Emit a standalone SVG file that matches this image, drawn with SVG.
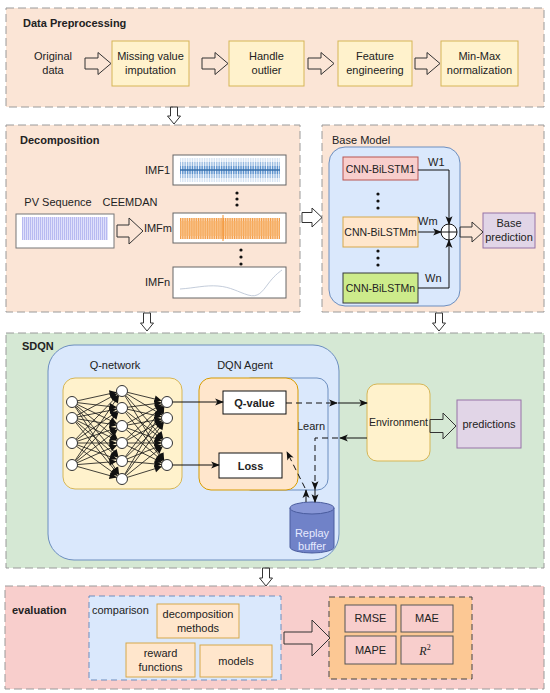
<svg xmlns="http://www.w3.org/2000/svg" width="550" height="693" viewBox="0 0 550 693">
<defs>
<style>
text{font-family:"Liberation Sans",Arial,sans-serif;font-size:11px;fill:#222}
.t{font-weight:bold}
.c{text-anchor:middle}
.r{text-anchor:end}
.sec{stroke:#9a9a9a;stroke-width:1;stroke-dasharray:8 4}
.peach{fill:#fbe5d6}
.yb{fill:#fff2cc;stroke:#d6b656}
.flex{fill:none;stroke:#333;stroke-width:1}
.blue{fill:#dae8fc;stroke:#6c8ebf}
.pur{fill:#e1d5e7;stroke:#9673a6}
.ln{stroke:#111;stroke-width:1;fill:none}
.dash{stroke:#111;stroke-width:1;fill:none;stroke-dasharray:6 4}
.nn{stroke:#111;stroke-width:0.8;marker-end:url(#nh)}
.node{fill:#fff;stroke:#333;stroke-width:1}
.imf{fill:#fff;stroke:#666;stroke-width:1}
.ev{fill:#ffe6cc;stroke:#d6a84a}
.met{fill:#f8cecc;stroke:#555}
</style>
<marker id="ah" viewBox="0 0 10 8" refX="9" refY="4" markerWidth="9" markerHeight="7" markerUnits="userSpaceOnUse" orient="auto" overflow="visible">
<path d="M0,0 L10,4 L0,8 L2.5,4 Z" fill="#111"/>
</marker>
<marker id="nh" viewBox="0 0 20 8" refX="14" refY="4" markerWidth="18" markerHeight="7.2" markerUnits="userSpaceOnUse" orient="auto" overflow="visible">
<path d="M0,0 L8,4 L0,8 Z" fill="#111"/>
</marker>
<pattern id="pBlue" width="1.7" height="10" patternUnits="userSpaceOnUse"><rect width="0.9" height="10" fill="#4a86c8"/></pattern>
<pattern id="pOr" width="1.8" height="10" patternUnits="userSpaceOnUse"><rect width="1.2" height="10" fill="#f28e2b"/></pattern>
<pattern id="pLav" width="2" height="10" patternUnits="userSpaceOnUse"><rect width="2" height="10" fill="#dfe0fb"/><rect width="0.9" height="10" fill="#b4b6f0"/></pattern>
</defs>

<!-- Sections -->
<g id="sec-preprocessing">
<rect class="sec peach" x="6" y="8" width="538" height="99"/>
<text class="t" x="23" y="27">Data Preprocessing</text>
</g>
<g id="sec-decomposition">
<rect class="sec peach" x="6" y="125" width="294" height="187"/>
<text class="t" x="20" y="144">Decomposition</text>
</g>
<g id="sec-base">
<rect class="sec peach" x="322" y="125" width="222" height="187"/>
<text x="332" y="144">Base Model</text>
</g>
<g id="sec-sdqn">
<rect class="sec" fill="#d5e8d4" x="6" y="333" width="538" height="235"/>
<text class="t" x="22" y="350">SDQN</text>
</g>
<g id="sec-evaluation">
<rect class="sec" fill="#f8cecc" x="5" y="586" width="539" height="103"/>
<text class="t" x="12" y="614">evaluation</text>
</g>

<!-- Preprocessing nodes -->
<g id="original-data">
<text class="c" x="53" y="60">Original</text>
<text class="c" x="53" y="74">data</text>
</g>
<g id="missing-value">
<rect class="yb" x="112" y="41" width="77" height="45"/>
<text class="c" x="150.5" y="60">Missing value</text>
<text class="c" x="150.5" y="74">imputation</text>
</g>
<g id="handle-outlier">
<rect class="yb" x="229" y="41" width="75" height="45"/>
<text class="c" x="266.5" y="60">Handle</text>
<text class="c" x="266.5" y="74">outlier</text>
</g>
<g id="feature-eng">
<rect class="yb" x="338" y="41" width="74" height="45"/>
<text class="c" x="375" y="60">Feature</text>
<text class="c" x="375" y="74">engineering</text>
</g>
<g id="minmax">
<rect class="yb" x="441" y="41" width="77" height="45"/>
<text class="c" x="479.5" y="60">Min-Max</text>
<text class="c" x="479.5" y="74">normalization</text>
</g>

<!-- Decomposition nodes -->
<g id="pv-sequence">
<text class="c" x="58" y="206">PV Sequence</text>
<rect x="16" y="214" width="98" height="34" fill="#fff" stroke="#777"/>
<rect x="22" y="217" width="86" height="23" fill="url(#pLav)"/>
</g>
<g id="ceemdan"><text class="c" x="130" y="206">CEEMDAN</text></g>
<g id="imf1">
<text class="r" x="170" y="174">IMF1</text>
<rect class="imf" x="173" y="155" width="113" height="30"/>
<rect x="180" y="158" width="100" height="24" fill="url(#pBlue)" opacity="0.25"/>
<rect x="180" y="162" width="100" height="16" fill="url(#pBlue)" opacity="0.45"/>
<rect x="180" y="166" width="100" height="8" fill="url(#pBlue)" opacity="0.8"/>
<line x1="180" y1="170" x2="280" y2="170" stroke="#2f6aa8" stroke-width="2" opacity="0.7"/>
</g>
<g id="dots1" fill="#111"><circle cx="237" cy="193" r="1.6"/><circle cx="237" cy="199" r="1.6"/><circle cx="237" cy="205" r="1.6"/></g>
<g id="imfm">
<text class="r" x="172" y="232">IMFm</text>
<rect class="imf" x="173" y="213" width="113" height="30"/>
<rect x="180" y="218" width="100" height="21" fill="url(#pOr)" opacity="0.9"/>
<rect x="180" y="221" width="100" height="15" fill="#f7b26a" opacity="0.6"/>
<line x1="223" y1="215" x2="223" y2="241" stroke="#f28e2b" stroke-width="1"/>
</g>
<g id="dots2" fill="#111"><circle cx="241" cy="250" r="1.6"/><circle cx="241" cy="257" r="1.6"/><circle cx="241" cy="264" r="1.6"/></g>
<g id="imfn">
<text class="r" x="170" y="286">IMFn</text>
<rect class="imf" x="173" y="267" width="113" height="31"/>
<path d="M180,289 C195,288 205,285 218,286 S238,292 248,295 S262,292 268,284 S278,273 282,270" fill="none" stroke="#b4bfd0" stroke-width="0.8"/>
</g>

<!-- Base model -->
<g id="base-panel"><rect class="blue" x="329" y="147" width="131" height="159" rx="16"/></g>
<g id="cnn1">
<rect x="343" y="157" width="75" height="23" fill="#f8cecc" stroke="#b85450"/>
<text class="c" x="380.5" y="172.5" style="font-size:10.5px">CNN-BiLSTM1</text>
</g>
<g id="dots3" fill="#111"><circle cx="378" cy="194" r="1.6"/><circle cx="378" cy="201" r="1.6"/><circle cx="378" cy="208" r="1.6"/></g>
<g id="cnnm">
<rect x="343" y="217" width="75" height="30" fill="#ffe6cc" stroke="#d6a84a"/>
<text class="c" x="380.5" y="236" style="font-size:10.5px">CNN-BiLSTMm</text>
</g>
<g id="dots4" fill="#111"><circle cx="378" cy="251" r="1.6"/><circle cx="378" cy="258" r="1.6"/><circle cx="378" cy="265" r="1.6"/></g>
<g id="cnnn">
<rect x="343" y="273" width="75" height="30" fill="#cdeb8b" stroke="#36393d"/>
<text class="c" x="380.5" y="292" style="font-size:10.5px">CNN-BiLSTMn</text>
</g>
<g id="sum">
<circle cx="449" cy="232" r="8" fill="#fff" stroke="#111"/>
<line x1="441" y1="232" x2="457" y2="232" stroke="#111"/>
<line x1="449" y1="224" x2="449" y2="240" stroke="#111"/>
</g>
<g id="base-prediction">
<rect class="pur" x="483" y="213" width="52" height="35"/>
<text class="c" x="509" y="227">Base</text>
<text class="c" x="509" y="241">prediction</text>
</g>

<!-- SDQN nodes -->
<g id="outer-panel"><rect class="blue" x="48" y="345" width="291" height="215" rx="26"/></g>
<g id="q-network">
<text class="c" x="115" y="369">Q-network</text>
<rect class="yb" x="63" y="378" width="119" height="111" rx="12"/>
</g>
<g id="learn-panel">
<rect class="blue" x="240" y="378" width="88" height="112" rx="11"/>
<text class="c" x="311" y="430">Learn</text>
</g>
<g id="dqn-agent">
<text class="c" x="245" y="369">DQN Agent</text>
<rect x="199" y="378" width="99" height="112" rx="12" fill="#ffe6cc" stroke="#d79b00"/>
</g>
<g id="q-value">
<rect x="223" y="391" width="63" height="23" fill="#fff" stroke="#111"/>
<text class="c t" x="254.5" y="406.5">Q-value</text>
</g>
<g id="loss">
<rect x="219" y="453" width="63" height="25" fill="#fff" stroke="#111"/>
<text class="c t" x="250.5" y="469.5">Loss</text>
</g>
<g id="replay-buffer">
<path d="M290,508 V547 A22,6 0 0 0 334,547 V508" fill="#7082c8" stroke="#4a5c9e"/>
<ellipse cx="312" cy="508" rx="22" ry="6" fill="#8796d6" stroke="#4a5c9e"/>
<text class="c" x="312" y="537" style="fill:#e6eaff">Replay</text>
<text class="c" x="312" y="550" style="fill:#e6eaff">buffer</text>
</g>
<g id="environment">
<rect class="yb" x="367" y="384" width="63" height="77" rx="10"/>
<text class="c" x="398.5" y="426" style="font-size:10.5px">Environment</text>
</g>
<g id="predictions">
<rect class="pur" x="457" y="400" width="64" height="48"/>
<text class="c" x="489" y="428">predictions</text>
</g>

<!-- Evaluation nodes -->
<g id="comparison">
<rect x="89" y="596" width="192" height="84" fill="#dae8fc" stroke="#6c8ebf" stroke-dasharray="6 4"/>
<text x="92" y="614">comparison</text>
</g>
<g id="decomp-methods">
<rect class="ev" x="157" y="604" width="82" height="34"/>
<text class="c" x="198" y="618">decomposition</text>
<text class="c" x="198" y="632">methods</text>
</g>
<g id="reward-functions">
<rect class="ev" x="126" y="643" width="69" height="34"/>
<text class="c" x="160.5" y="657">reward</text>
<text class="c" x="160.5" y="671">functions</text>
</g>
<g id="models">
<rect class="ev" x="200" y="645" width="72" height="32"/>
<text class="c" x="236" y="665">models</text>
</g>
<g id="metrics">
<rect x="329" y="597" width="143" height="82" fill="#fcc894" stroke="#444" stroke-dasharray="6 4"/>
</g>
<g id="rmse"><rect class="met" x="345" y="605" width="51" height="27"/><text class="c" x="370.5" y="622">RMSE</text></g>
<g id="mae"><rect class="met" x="401" y="605" width="52" height="27"/><text class="c" x="427" y="622">MAE</text></g>
<g id="mape"><rect class="met" x="345" y="636" width="51" height="28"/><text class="c" x="370.5" y="654">MAPE</text></g>
<g id="r2"><rect class="met" x="401" y="636" width="52" height="28"/><text class="c" x="425" y="655" style="font-family:'Liberation Serif','Times New Roman',serif;font-style:italic;font-size:12px">R<tspan dy="-5" style="font-size:8px;font-style:normal">2</tspan></text></g>

<!-- Connectors -->
<g id="connectors">
<path class="flex" d="M85,58 H98 V52.5 L111,63.5 L98,74.5 V69 H85 Z"/>
<path class="flex" d="M202,58 H215 V52.5 L228,63.5 L215,74.5 V69 H202 Z"/>
<path class="flex" d="M308,58 H321 V52.5 L334,63.5 L321,74.5 V69 H308 Z"/>
<path class="flex" d="M415,58 H427 V52.5 L440,63.5 L427,74.5 V69 H415 Z"/>
<path class="flex" d="M170.5,107 V116 H167.5 L174,124 L180.5,116 H177.5 V107 Z"/>
<path class="flex" d="M117,225 H129 V218 L143,231 L129,244 V237 H117 Z"/>
<path class="flex" d="M302,212.5 H312 V208 L322,217.5 L312,227 V222.5 H302 Z"/>
<path class="flex" d="M460,227 H472 V222 L483,232 L472,242 V237 H460 Z"/>
<path class="flex" d="M143.5,313 V323 H140.5 L147,331 L153.5,323 H150.5 V313 Z"/>
<path class="flex" d="M435.5,313 V323 H432.5 L439,331 L445.5,323 H442.5 V313 Z"/>
<path class="flex" d="M430,419.5 H443 V413 L456,426 L443,439 V432.5 H430 Z"/>
<path class="flex" d="M262.5,568 V578 H259.5 L266,586 L272.5,578 H269.5 V568 Z"/>
<path class="flex" d="M284,632 H312 V620 L330,638 L312,656 V644 H284 Z"/>
<path class="ln" d="M418,170 H449 V224" marker-end="url(#ah)"/>
<path class="ln" d="M418,232 H441" marker-end="url(#ah)"/>
<path class="ln" d="M418,288 H449 V240" marker-end="url(#ah)"/>
<text x="428" y="166">W1</text>
<text x="418" y="225">Wm</text>
<text x="425" y="282">Wn</text>
<path class="ln" d="M172,402 H223" marker-end="url(#ah)"/>
<path class="ln" d="M172,465 H219" marker-end="url(#ah)"/>
<path class="dash" d="M286,403 H337" marker-end="url(#ah)"/>
<path class="ln" d="M338,403 H367" marker-end="url(#ah)"/>
<path class="ln" d="M367,438 H340" marker-end="url(#ah)"/>
<path class="dash" d="M338,438 H315 V489" marker-end="url(#ah)"/>
<path class="ln" d="M315,489 V502" marker-end="url(#ah)"/>
<path class="ln" d="M306,502 V490" marker-end="url(#ah)"/>
<path class="dash" d="M305,488 L287,452" marker-end="url(#ah)"/>
<g id="nn-edges">
<line class="nn" x1="72" y1="402" x2="122" y2="391"/><line class="nn" x1="72" y1="402" x2="122" y2="408"/><line class="nn" x1="72" y1="402" x2="122" y2="426"/><line class="nn" x1="72" y1="402" x2="122" y2="443"/><line class="nn" x1="72" y1="402" x2="122" y2="461"/><line class="nn" x1="72" y1="402" x2="122" y2="479"/>
<line class="nn" x1="72" y1="418" x2="122" y2="391"/><line class="nn" x1="72" y1="418" x2="122" y2="408"/><line class="nn" x1="72" y1="418" x2="122" y2="426"/><line class="nn" x1="72" y1="418" x2="122" y2="443"/><line class="nn" x1="72" y1="418" x2="122" y2="461"/><line class="nn" x1="72" y1="418" x2="122" y2="479"/>
<line class="nn" x1="72" y1="443" x2="122" y2="391"/><line class="nn" x1="72" y1="443" x2="122" y2="408"/><line class="nn" x1="72" y1="443" x2="122" y2="426"/><line class="nn" x1="72" y1="443" x2="122" y2="443"/><line class="nn" x1="72" y1="443" x2="122" y2="461"/><line class="nn" x1="72" y1="443" x2="122" y2="479"/>
<line class="nn" x1="72" y1="465" x2="122" y2="391"/><line class="nn" x1="72" y1="465" x2="122" y2="408"/><line class="nn" x1="72" y1="465" x2="122" y2="426"/><line class="nn" x1="72" y1="465" x2="122" y2="443"/><line class="nn" x1="72" y1="465" x2="122" y2="461"/><line class="nn" x1="72" y1="465" x2="122" y2="479"/>
<line class="nn" x1="122" y1="391" x2="167" y2="402"/><line class="nn" x1="122" y1="391" x2="167" y2="418"/><line class="nn" x1="122" y1="391" x2="167" y2="443"/><line class="nn" x1="122" y1="391" x2="167" y2="465"/>
<line class="nn" x1="122" y1="408" x2="167" y2="402"/><line class="nn" x1="122" y1="408" x2="167" y2="418"/><line class="nn" x1="122" y1="408" x2="167" y2="443"/><line class="nn" x1="122" y1="408" x2="167" y2="465"/>
<line class="nn" x1="122" y1="426" x2="167" y2="402"/><line class="nn" x1="122" y1="426" x2="167" y2="418"/><line class="nn" x1="122" y1="426" x2="167" y2="443"/><line class="nn" x1="122" y1="426" x2="167" y2="465"/>
<line class="nn" x1="122" y1="443" x2="167" y2="402"/><line class="nn" x1="122" y1="443" x2="167" y2="418"/><line class="nn" x1="122" y1="443" x2="167" y2="443"/><line class="nn" x1="122" y1="443" x2="167" y2="465"/>
<line class="nn" x1="122" y1="461" x2="167" y2="402"/><line class="nn" x1="122" y1="461" x2="167" y2="418"/><line class="nn" x1="122" y1="461" x2="167" y2="443"/><line class="nn" x1="122" y1="461" x2="167" y2="465"/>
<line class="nn" x1="122" y1="479" x2="167" y2="402"/><line class="nn" x1="122" y1="479" x2="167" y2="418"/><line class="nn" x1="122" y1="479" x2="167" y2="443"/><line class="nn" x1="122" y1="479" x2="167" y2="465"/>
</g>
</g>

<g id="nn-nodes">
<circle class="node" cx="72" cy="402" r="5.5"/><circle class="node" cx="72" cy="418" r="5.5"/><circle class="node" cx="72" cy="443" r="5.5"/><circle class="node" cx="72" cy="465" r="5.5"/>
<circle class="node" cx="122" cy="391" r="5.5"/><circle class="node" cx="122" cy="408" r="5.5"/><circle class="node" cx="122" cy="426" r="5.5"/><circle class="node" cx="122" cy="443" r="5.5"/><circle class="node" cx="122" cy="461" r="5.5"/><circle class="node" cx="122" cy="479" r="5.5"/>
<circle class="node" cx="167" cy="402" r="5.5"/><circle class="node" cx="167" cy="418" r="5.5"/><circle class="node" cx="167" cy="443" r="5.5"/><circle class="node" cx="167" cy="465" r="5.5"/>
</g>
</svg>
